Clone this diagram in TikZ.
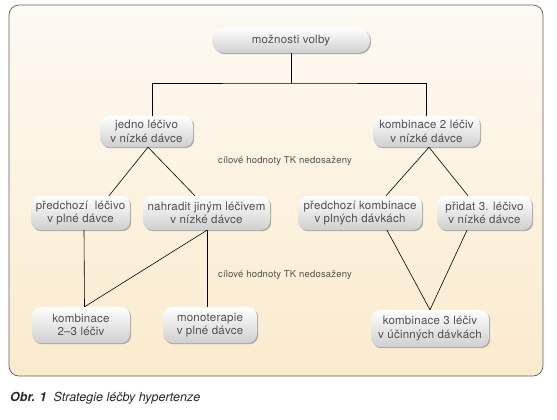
\documentclass[tikz,border=0pt]{standalone}
\usepackage{fontspec}
\setmainfont{TeX Gyre Heros}
\newfontfamily\boxfont[LetterSpace=2]{TeX Gyre Heros}
\usetikzlibrary{shadows}
\definecolor{paneltop}{HTML}{FDFAF3}
\definecolor{panelbot}{HTML}{FBEBCD}
\definecolor{txtgray}{HTML}{505050}
\definecolor{boxbot}{HTML}{CFCFCF}
\definecolor{shadowgray}{HTML}{9A9A9A}
\tikzset{
  optbox/.style={rounded corners=9pt, top color=white, bottom color=boxbot,
    draw=none, inner sep=0pt, align=center, text=txtgray,
    font=\boxfont\fontsize{11.5}{13.5}\selectfont,
    drop shadow={shadow xshift=1.2pt, shadow yshift=-1.2pt, fill=shadowgray, opacity=0.8}},
  link/.style={draw=black, line width=0.6pt},
  note/.style={text=txtgray, font=\boxfont\fontsize{9.5}{11}\selectfont, inner sep=0pt}
}
\begin{document}
\begin{tikzpicture}[x=1pt,y=-1pt]
\useasboundingbox (0,0) rectangle (557,420);
% panel
\shade[top color=paneltop, bottom color=panelbot, rounded corners=10pt]
  (9,5) rectangle (543,376);
\draw[draw=gray!75!black, line width=0.7pt, rounded corners=10pt]
  (9,5) rectangle (543,376);
% nodes
\node[optbox, rounded corners=12pt, minimum width=158pt, minimum height=25pt] (m) at (291,40.5) {možnosti volby};
\node[optbox, minimum width=93pt, minimum height=31pt] (jedno) at (146.5,131.5) {jedno léčivo\\v nízké dávce};
\node[optbox, minimum width=107pt, minimum height=31pt] (k2) at (426.5,131.5) {kombinace 2 léčiv\\v nízké dávce};
\node[optbox, minimum width=99pt, minimum height=34pt] (pl) at (80.5,213) {předchozí\ \ léčivo\\v plné dávce};
\node[optbox, minimum width=127pt, minimum height=34pt] (nah) at (206.5,213) {nahradit jiným léčivem\\v nízké dávce};
\node[optbox, minimum width=124pt, minimum height=34pt] (pk) at (360,213) {předchozí kombinace\\v plných dávkách};
\node[optbox, minimum width=95pt, minimum height=34pt] (p3) at (484.5,213) {přidat 3. léčivo\\v nízké dávce};
\node[optbox, minimum width=98pt, minimum height=36pt] (k23) at (81,325) {kombinace\\2–3 léčiv};
\node[optbox, minimum width=94pt, minimum height=36pt] (mono) at (210,325) {monoterapie\\v plné dávce};
\node[optbox, minimum width=118pt, minimum height=37pt] (k3) at (430,328.5) {kombinace 3 léčiv\\v účinných dávkách};
% notes
\node[note] (n1) at (285,161) {cílové hodnoty TK nedosaženy};
\node[note] (n2) at (285,275) {cílové hodnoty TK nedosaženy};
% connectors
\coordinate (hub) at (291,83);
\draw[link] (m.south) -- (hub);
\draw[link] ([xshift=6pt]jedno.north) |- (hub) -| (k2.north);
\draw[link] ([xshift=1.5pt]jedno.south) -- ([xshift=28.5pt]pl.north);
\draw[link] ([xshift=1.5pt]jedno.south) -- ([xshift=-11.5pt]nah.north);
\draw[link] ([xshift=2.5pt]k2.south) -- ([xshift=26pt]pk.north);
\draw[link] ([xshift=2.5pt]k2.south) -- ([xshift=-16.5pt]p3.north);
\draw[link] ([xshift=3.5pt]pl.south) -- ([xshift=3.5pt]k23.north);
\draw[link] ([xshift=0.5pt]nah.south) -- ([xshift=3.5pt]k23.north);
\draw[link] ([xshift=0.5pt]nah.south) -- ([xshift=-3pt]mono.north);
\draw[link] ([xshift=27pt]pk.south) -- (k3.north);
\draw[link] ([xshift=-17.5pt]p3.south) -- (k3.north);
% caption
\node[anchor=west, inner sep=0pt, text=black!85, font=\fontsize{12.5}{14}\selectfont\itshape] (cap) at (10,398)
  {\textbf{Obr. 1}\ \ Strategie léčby hypertenze};
\end{tikzpicture}
\end{document}
